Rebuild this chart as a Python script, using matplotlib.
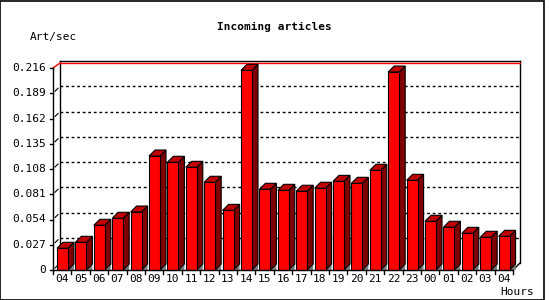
import matplotlib
matplotlib.use('Agg')
import matplotlib.pyplot as plt
from matplotlib.patches import Polygon, Rectangle
from matplotlib.transforms import offset_copy

# Data
hours = ['04', '05', '06', '07', '08', '09', '10', '11', '12', '13', '14', '15',
         '16', '17', '18', '19', '20', '21', '22', '23', '00', '01', '02', '03', '04']
rates = [0.0232, 0.0296, 0.0478, 0.0553, 0.0620, 0.1219, 0.1152, 0.1098, 0.0938,
         0.0638, 0.2135, 0.0863, 0.0852, 0.0842, 0.0874, 0.0948, 0.0927, 0.1066,
         0.2117, 0.0959, 0.0521, 0.0457, 0.0392, 0.0350, 0.0360]
y_ticks = [0, 0.027, 0.054, 0.081, 0.108, 0.135, 0.162, 0.189, 0.216]
y_labels = ['0', '0.027', '0.054', '0.081', '0.108', '0.135', '0.162', '0.189', '0.216']
y_max = 0.216

FRONT = '#ff0000'
SIDE = '#800000'
TOP = '#c00000'
SHADOW = '#808080'
FONT = 'DejaVu Sans Mono'

fig = plt.figure(figsize=(5.5, 3.0), dpi=100)
fig.patches.append(Rectangle((0, 0), 544 / 550, 299 / 300, transform=fig.transFigure,
                             fill=False, edgecolor='black', linewidth=1.2))

# front plane of the plot area (pixels: x 53..513, y 68..270)
ax = fig.add_axes([53 / 550, 30 / 300, 460 / 550, 202 / 300])
n = len(hours)
ax.set_xlim(0, n)
ax.set_ylim(0, y_max)
ax.axis('off')

px_x = 460 / n        # pixels per category
px_y = 202 / y_max    # pixels per unit value
wall = 7              # depth of back wall in pixels
depth = 6             # depth of bars in pixels
ddx = depth / px_x
ddy = depth / px_y

back = offset_copy(ax.transData, fig=fig, x=wall, y=wall, units='dots')

# back wall: dotted grid, frame
for v in y_ticks[1:-1]:
    ax.plot([0, n], [v, v], transform=back, color='black', lw=1,
            linestyle=(0, (2, 2)), clip_on=False, zorder=1)
ax.plot([0, 0], [0, y_max], transform=back, color='black', lw=1, clip_on=False, zorder=1)
ax.plot([n, n], [0, y_max], transform=back, color='black', lw=1, clip_on=False, zorder=1)
ax.plot([0, n], [y_max, y_max], transform=back, color='black', lw=1, clip_on=False, zorder=1)
red_top = offset_copy(ax.transData, fig=fig, x=wall, y=wall - 2, units='dots')
ax.plot([0, n], [y_max, y_max], transform=red_top, color='red', lw=1, clip_on=False, zorder=1)
ax.plot([0, wall / px_x], [y_max, y_max + (wall - 2) / px_y], color='red', lw=1,
        clip_on=False, zorder=1)

# small diagonal ticks between front axis and back wall
for v in y_ticks[:-1]:
    ax.plot([2 / px_x, 5 / px_x], [v + 2 / px_y, v + 5 / px_y], color='black', lw=0.8,
            clip_on=False, zorder=1)
ax.plot([n, n + wall / px_x], [0, wall / px_y], color='black', lw=1, clip_on=False, zorder=1)

# bars
for i, v in enumerate(rates):
    x0 = i + 4 / px_x
    x1 = i + 15 / px_x
    ax.add_patch(Polygon([(x1, 0), (x1 + ddx, ddy), (x1 + ddx, 0)], closed=True,
                         facecolor=SHADOW, edgecolor='none', clip_on=False, zorder=2))
    ax.add_patch(Polygon([(x1, 0), (x1 + ddx, ddy), (x1 + ddx, v + ddy), (x1, v)],
                         closed=True, facecolor=SIDE, edgecolor='black', lw=0.8,
                         clip_on=False, zorder=3))
    ax.add_patch(Polygon([(x0, v), (x0 + ddx, v + ddy), (x1 + ddx, v + ddy), (x1, v)],
                         closed=True, facecolor=TOP, edgecolor='black', lw=0.8,
                         clip_on=False, zorder=3))
    ax.add_patch(Rectangle((x0, 0), x1 - x0, v, facecolor=FRONT, edgecolor='black',
                           lw=0.8, clip_on=False, zorder=4))

# front axes
ax.plot([0, 0], [0, y_max], color='black', lw=1, clip_on=False, zorder=5)
ax.plot([0, n], [0, 0], color='black', lw=1, clip_on=False, zorder=5)

left_lbl = offset_copy(ax.transData, fig=fig, x=-7, y=0, units='dots')
for v, lab in zip(y_ticks, y_labels):
    ax.plot([-3 / px_x, 0], [v, v], color='black', lw=1, clip_on=False, zorder=5)
    ax.text(0, v, lab, transform=left_lbl, ha='right', va='center',
            family=FONT, fontsize=8)

bottom_lbl = offset_copy(ax.transData, fig=fig, x=0, y=-4, units='dots')
for i, lab in enumerate(hours):
    ax.plot([i, i], [0, -4 / px_y], color='black', lw=1, clip_on=False, zorder=5)
    ax.text(i + 0.5, 0, lab, transform=bottom_lbl, ha='center', va='top',
            family=FONT, fontsize=8)
ax.plot([n, n], [0, -4 / px_y], color='black', lw=1, clip_on=False, zorder=5)

fig.text(274 / 550, 1 - 27 / 300, 'Incoming articles', ha='center', va='center',
         family=FONT, fontsize=8, fontweight='bold')
fig.text(30 / 550, 1 - 37 / 300, 'Art/sec', ha='left', va='center', family=FONT, fontsize=8)
fig.text(534 / 550, 1 - 292 / 300, 'Hours', ha='right', va='center', family=FONT, fontsize=8)

fig.savefig('out.png', dpi=100)
